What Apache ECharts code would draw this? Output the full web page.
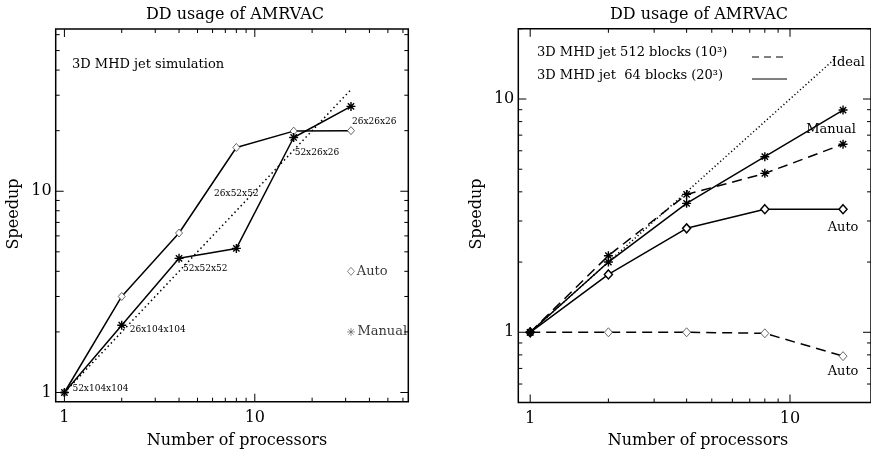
<!DOCTYPE html>
<html>
<head>
<meta charset="utf-8">
<script src="https://cdn.jsdelivr.net/npm/echarts@6/dist/echarts.min.js"></script>
<style>
  html, body { margin: 0; padding: 0; background: #fff; }
  #chart { width: 871px; height: 454px; }
</style>
</head>
<body>
<div id="chart"></div>
<script>
// left panel: 3D MHD jet simulation
const procsL = [1, 2, 4, 8, 16, 32];
const autoL = [1, 3.0, 6.2, 16.5, 19.9, 20.0];
const manualL = [1, 2.16, 4.64, 5.2, 18.5, 26.4];
const idealProcsL = [1, 32];
const sizesL = ['52x104x104', '26x104x104', '52x52x52', '26x52x52', '52x26x26', '26x26x26'];
const keyL = [[32, 4, 'Auto'], [32, 2, 'Manual']];

// right panel: 512 blocks (10^3) vs 64 blocks (20^3)
const procsR = [1, 2, 4, 8, 16];
const manual64 = [1, 2.0, 3.57, 5.66, 8.97];
const manual512 = [1, 2.13, 3.9, 4.8, 6.4];
const auto64 = [1, 1.77, 2.79, 3.37, 3.37];
const auto512 = [1, 1.0, 1.0, 0.99, 0.79];
const idealProcsR = [1, 15];

// axis ticks (log axes)
const ticksL = [1, 2, 3, 4, 5, 6, 7, 8, 9, 10, 20, 30, 40, 50, 60];
const ticksRx = [1, 2, 3, 4, 5, 6, 7, 8, 9, 10];
const ticksRy = [0.5, 0.6, 0.7, 0.8, 0.9, 1, 2, 3, 4, 5, 6, 7, 8, 9, 10, 20];
const majorTicks = [1, 10];

const FONT = '"DejaVu Serif", serif';
const STAR = 'path://M0,5L10,5M5,0L5,10M1.5,1.5L8.5,8.5M1.5,8.5L8.5,1.5';

let chart = echarts.init(document.getElementById('chart'));

let pairs = (xs, ys) => xs.map((x, i) => [x, ys[i]]);

function txt(text, x, y, size, align, rot) {
    return {
        type: 'text', x: x, y: y, rotation: rot || 0, silent: true,
        style: {
            text: text, x: 0, y: 0, font: size + 'px ' + FONT, fill: '#000',
            align: align || 'left', textAlign: align || 'left',
            verticalAlign: 'middle', textVerticalAlign: 'middle'
        }
    };
}

function tickSeries(idx, vals, dir) {
    return {
        type: 'custom', xAxisIndex: idx, yAxisIndex: idx, silent: true, clip: false, z: 10,
        data: vals.map(v => dir === 'x' ? [v, 1] : [1, v]),
        renderItem: function (params, api) {
            let cs = params.coordSys;
            let v = api.value(dir === 'x' ? 0 : 1);
            let p = api.coord([api.value(0), api.value(1)]);
            let big = majorTicks.indexOf(v) >= 0;
            let len = big ? 8 : 4;
            let ls = { stroke: '#000', lineWidth: 1 };
            let kids = [];
            if (dir === 'x') {
                let x = p[0], b = cs.y + cs.height, t = cs.y;
                kids.push({ type: 'line', shape: { x1: x, y1: b, x2: x, y2: b - len }, style: ls });
                kids.push({ type: 'line', shape: { x1: x, y1: t, x2: x, y2: t + len }, style: ls });
                if (big) {
                    kids.push({ type: 'text', style: { text: String(v), x: x, y: b + 16, font: '16px ' + FONT,
                        fill: '#000', align: 'center', verticalAlign: 'middle' } });
                }
            } else {
                let y = p[1], l = cs.x, r = Math.min(cs.x + cs.width, 871);
                kids.push({ type: 'line', shape: { x1: l, y1: y, x2: l + len, y2: y }, style: ls });
                kids.push({ type: 'line', shape: { x1: r, y1: y, x2: r - len, y2: y }, style: ls });
                if (big) {
                    kids.push({ type: 'text', style: { text: String(v), x: l - 4, y: y, font: '16px ' + FONT,
                        fill: '#000', align: 'right', verticalAlign: 'middle' } });
                }
            }
            return { type: 'group', children: kids };
        }
    };
}

let starStyle = (w, c) => ({ color: c, borderColor: c, borderWidth: w });
let diamondStyle = (w, c) => ({ color: '#fff', borderColor: c, borderWidth: w });

function line(idx, data, type, symbol, itemStyle, size, extra) {
    return Object.assign({
        type: 'line', xAxisIndex: idx, yAxisIndex: idx, data: data,
        symbol: symbol, symbolSize: size, showSymbol: symbol !== 'none',
        lineStyle: { color: '#000', width: 1.5, type: type },
        itemStyle: itemStyle, animation: false, z: 3
    }, extra || {});
}

// label offsets for block sizes (pixels, relative to marker)
const sizeOffsets = [[8, -3.5], [8, 4], [4, 10], [0, -55], [1, 15], [1, 15]];
const sizeAlign = ['left', 'left', 'left', 'center', 'left', 'left'];

let manualLData = pairs(procsL, manualL).map((d, i) => ({
    value: d,
    label: {
        show: true, position: 'inside', formatter: sizesL[i], offset: sizeOffsets[i],
        align: sizeAlign[i], verticalAlign: 'middle', fontFamily: FONT, fontSize: 9, color: '#000'
    }
}));

let keyLData = keyL.map((k, i) => ({
    value: [k[0], k[1]],
    symbol: i === 0 ? 'diamond' : STAR,
    symbolSize: i === 0 ? [7, 8] : 8,
    itemStyle: i === 0 ? diamondStyle(0.8, '#444') : starStyle(0.8, '#555'),
    label: { show: true, position: 'right', distance: 2, formatter: k[2],
        fontFamily: FONT, fontSize: 13, color: '#000' }
}));

let endLabel = (data, text, offset, align) => data.map((d, i) => i < data.length - 1 ? d : ({
    value: d,
    label: { show: true, position: 'inside', formatter: text, offset: offset, align: align,
        verticalAlign: 'middle', fontFamily: FONT, fontSize: 13, color: '#000' }
}));

let option = {
    backgroundColor: '#fff',
    animation: false,
    grid: [
        { left: 55.7, top: 29, width: 352.6, height: 372.7, show: true, borderColor: '#000', borderWidth: 1.5 },
        { left: 518.3, top: 28.8, width: 356, height: 373.7, show: true, borderColor: '#000', borderWidth: 1.5 }
    ],
    xAxis: [
        { gridIndex: 0, type: 'log', logBase: 10, min: 0.9, max: 64, axisLine: { show: false },
          axisTick: { show: false }, axisLabel: { show: false }, splitLine: { show: false } },
        { gridIndex: 1, type: 'log', logBase: 10, min: 0.9, max: 20.5, axisLine: { show: false },
          axisTick: { show: false }, axisLabel: { show: false }, splitLine: { show: false } }
    ],
    yAxis: [
        { gridIndex: 0, type: 'log', logBase: 10, min: 0.9, max: 64, axisLine: { show: false },
          axisTick: { show: false }, axisLabel: { show: false }, splitLine: { show: false } },
        { gridIndex: 1, type: 'log', logBase: 10, min: 0.5, max: 20, axisLine: { show: false },
          axisTick: { show: false }, axisLabel: { show: false }, splitLine: { show: false } }
    ],
    graphic: [
        txt('DD usage of AMRVAC', 235, 15, 16, 'center'),
        txt('DD usage of AMRVAC', 699, 15, 16, 'center'),
        txt('Number of processors', 237, 441, 16, 'center'),
        txt('Number of processors', 698, 441, 16, 'center'),
        txt('Speedup', 14, 214, 16, 'center', Math.PI / 2),
        txt('Speedup', 477, 214, 16, 'center', Math.PI / 2),
        txt('3D MHD jet simulation', 72, 65, 13, 'left'),
        txt('3D MHD jet 512 blocks (10³)', 537, 53, 13, 'left'),
        txt('3D MHD jet  64 blocks (20³)', 537, 76, 13, 'left'),
        { type: 'line', silent: true, shape: { x1: 752, y1: 57, x2: 787, y2: 57 },
          style: { stroke: '#000', lineWidth: 1, lineDash: [7, 5] } },
        { type: 'line', silent: true, shape: { x1: 752, y1: 79, x2: 787, y2: 79 },
          style: { stroke: '#000', lineWidth: 1 } }
    ],
    series: [
        // left panel
        line(0, idealProcsL.map(v => [v, v]), [1.5, 3], 'none', {}, 0),
        line(0, pairs(procsL, autoL), 'solid', 'diamond', diamondStyle(0.8, '#444'), [7, 8]),
        line(0, manualLData, 'solid', STAR, starStyle(1.4, '#000'), 9, { z: 4 }),
        { type: 'scatter', xAxisIndex: 0, yAxisIndex: 0, data: keyLData, z: 4 },
        tickSeries(0, ticksL, 'x'),
        tickSeries(0, ticksL, 'y'),
        // right panel
        line(1, endLabel(idealProcsR.map(v => [v, v]), 'Ideal', [-4, 5], 'left'), [1.2, 2.5], 'none', {}, 0,
            { showSymbol: true, symbol: 'circle', symbolSize: 0.1 }),
        line(1, pairs(procsR, auto512).map((d, i) => i < procsR.length - 1 ? d : ({
            value: d, label: { show: true, position: 'inside', formatter: 'Auto', offset: [0, 15],
                align: 'center', verticalAlign: 'middle', fontFamily: FONT, fontSize: 13, color: '#000' } })),
            [10, 6], 'diamond', diamondStyle(0.8, '#444'), [8, 9]),
        line(1, endLabel(pairs(procsR, auto64), 'Auto', [0, 18], 'center'), 'solid', 'diamond',
            diamondStyle(1.5, '#000'), [8, 9]),
        line(1, pairs(procsR, manual512), [10, 6], STAR, starStyle(1.4, '#000'), 9, { z: 4 }),
        line(1, endLabel(pairs(procsR, manual64), 'Manual', [-12, 20], 'center'), 'solid', STAR,
            starStyle(1.4, '#000'), 9, { z: 4 }),
        tickSeries(1, ticksRx, 'x'),
        tickSeries(1, ticksRy, 'y')
    ]
};

chart.setOption(option);
</script>
</body>
</html>
